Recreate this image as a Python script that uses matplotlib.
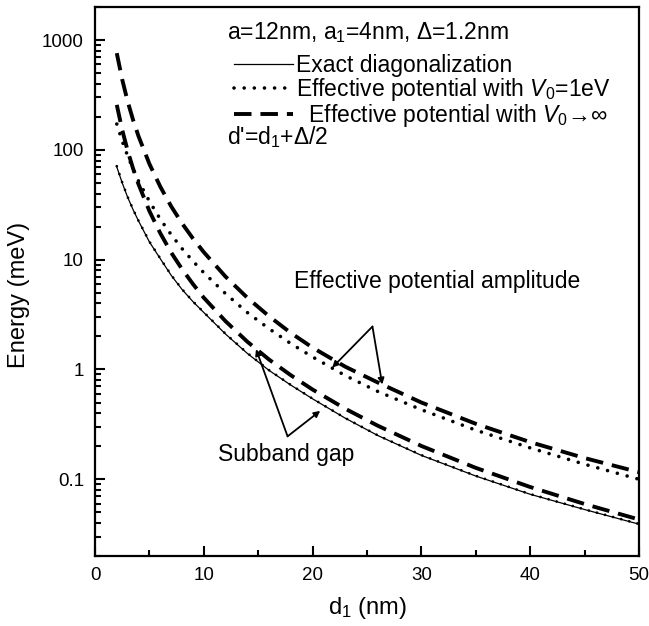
import matplotlib
matplotlib.use("Agg")
import matplotlib.pyplot as plt
from matplotlib.ticker import FixedLocator, LogLocator, NullFormatter, FixedFormatter

plt.rcParams['font.family'] = ['Liberation Sans', 'DejaVu Sans']
plt.rcParams['mathtext.fontset'] = 'custom'
plt.rcParams['mathtext.rm'] = 'Liberation Sans'
plt.rcParams['mathtext.it'] = 'Liberation Sans:italic'

# d1 (nm) and energies (meV)
d1 = [2, 2.5, 3, 3.5, 4, 5, 6, 7, 8, 9, 10, 12, 14, 16, 18, 20, 23, 26, 30, 35, 40, 45, 50]

# effective potential amplitude
amp_inf = [760, 437, 276, 187, 133, 74.5, 46.2, 30.6, 21.4, 15.6, 11.7, 7.0, 4.5, 3.05,
           2.15, 1.58, 1.06, 0.76, 0.5, 0.32, 0.218, 0.156, 0.116]
amp_1ev = [172, 120, 88, 67, 52, 34, 23.4, 16.9, 12.6, 9.7, 7.6, 4.9, 3.3, 2.35,
           1.72, 1.3, 0.88, 0.63, 0.43, 0.28, 0.193, 0.137, 0.100]

# subband gap
gap_inf = [257, 152, 98, 67.5, 48.6, 27.7, 17.4, 11.6, 8.2, 6.0, 4.5, 2.75, 1.79, 1.23,
           0.886, 0.656, 0.439, 0.307, 0.201, 0.127, 0.085, 0.0595, 0.043]
gap_exact = [70, 50, 37, 28.5, 22.5, 14.5, 10.2, 7.2, 5.35, 4.15, 3.3, 2.1, 1.4, 0.98,
             0.72, 0.54, 0.36, 0.25, 0.165, 0.107, 0.073, 0.053, 0.039]
gap_1ev = [71, 50.5, 37.3, 28.7, 22.6, 14.6, 10.25, 7.25, 5.38, 4.17, 3.32, 2.11, 1.41, 0.985,
           0.723, 0.542, 0.361, 0.251, 0.166, 0.1075, 0.0733, 0.0532, 0.0392]

y_ticks = [0.1, 1, 10, 100, 1000]
y_labels = ['0.1', '1', '10', '100', '1000']

fig = plt.figure(figsize=(6.49, 6.26), dpi=100)
ax = fig.add_axes([0.1464, 0.1118, 0.8382, 0.877])

dash_style = dict(color='black', lw=2.8, dashes=(4.5, 2.3), dash_capstyle='butt')
dot_style = dict(color='black', lw=2.6, dashes=(0.01, 2.8), dash_capstyle='round')

l_exact, = ax.plot(d1, gap_exact, color='black', lw=0.9, label='Exact diagonalization')
ax.plot(d1, gap_1ev, color='black', lw=2.0, dashes=(0.01, 3.0), dash_capstyle='round')
l_dot, = ax.plot(d1, amp_1ev, label='Effective potential with $V_0$=1eV', **dot_style)
l_dash, = ax.plot(d1, amp_inf, label='  Effective potential with $V_0$\u2192\u221e', **dash_style)
ax.plot(d1, gap_inf, **dash_style)

ax.set_yscale('log')
ax.set_xlim(0, 50)
ax.set_ylim(0.02, 2000)

ax.xaxis.set_major_locator(FixedLocator([0, 10, 20, 30, 40, 50]))
ax.xaxis.set_minor_locator(FixedLocator([5, 15, 25, 35, 45]))
ax.yaxis.set_major_locator(FixedLocator(y_ticks))
ax.yaxis.set_major_formatter(FixedFormatter(y_labels))
ax.yaxis.set_minor_locator(LogLocator(base=10, subs=range(2, 10)))
ax.yaxis.set_minor_formatter(NullFormatter())

ax.tick_params(which='both', direction='in', top=False, right=False, width=1.5, labelsize=13.5)
ax.tick_params(which='major', length=7)
ax.tick_params(which='minor', length=4)
ax.tick_params(axis='x', pad=8)
ax.tick_params(axis='y', pad=8)
for s in ax.spines.values():
    s.set_linewidth(1.6)

ax.set_xlabel('d$_1$ (nm)', fontsize=17, labelpad=8)
ax.set_ylabel('Energy (meV)', fontsize=17)
ax.yaxis.set_label_coords(-0.12, 0.475)

ax.text(0.2426, 0.9526, 'a=12nm, a$_1$=4nm, \u0394=1.2nm', transform=ax.transAxes,
        fontsize=16.5, va='center', ha='left')
ax.text(0.2426, 0.763, "d'=d$_1$+\u0394/2", transform=ax.transAxes,
        fontsize=16.5, va='center', ha='left')

ax.legend(handles=[l_exact, l_dot, l_dash], loc='upper left', bbox_to_anchor=(0.255, 0.915),
          frameon=False, fontsize=16.5, handlelength=2.6, handletextpad=0.1,
          labelspacing=-0.03, borderpad=0, borderaxespad=0)

arrow = dict(arrowstyle='-|>', color='black', lw=1.3, mutation_scale=9, shrinkA=0, shrinkB=0)
ax.text(31.4, 6.3, 'Effective potential amplitude', fontsize=16.5, ha='center', va='center')
ax.annotate('', xy=(21.8, 1.04), xytext=(25.5, 2.46), arrowprops=arrow)
ax.annotate('', xy=(26.4, 0.73), xytext=(25.5, 2.46), arrowprops=arrow)

ax.text(17.6, 0.169, 'Subband gap', fontsize=16.5, ha='center', va='center')
ax.annotate('', xy=(14.8, 1.53), xytext=(17.7, 0.246), arrowprops=arrow)
ax.annotate('', xy=(20.7, 0.42), xytext=(17.7, 0.246), arrowprops=arrow)

fig.savefig('out.png', dpi=100)
